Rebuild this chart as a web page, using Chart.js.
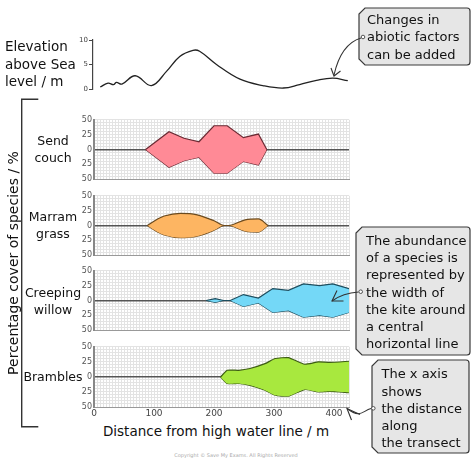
<!DOCTYPE html>
<html><head><meta charset="utf-8">
<script src="https://cdn.jsdelivr.net/npm/chart.js@4/dist/chart.umd.min.js"></script>
<style>
html,body{margin:0;padding:0;background:#fff;}
body{width:474px;height:465px;position:relative;overflow:hidden;font-family:"DejaVu Sans",sans-serif;color:#111;}
canvas{position:absolute;}
.t{position:absolute;font-size:13px;line-height:17.3px;white-space:nowrap;}
.sp{text-align:center;width:80px;left:13px;font-size:12.5px;}
svg{position:absolute;left:0;top:0;}
</style>
</head><body>
<canvas id="elev" width="295" height="70" style="left:60px;top:30px"></canvas>
<canvas id="p0" width="295" height="73" style="left:60px;top:113px"></canvas>
<canvas id="p1" width="295" height="73" style="left:60px;top:189px"></canvas>
<canvas id="p2" width="295" height="73" style="left:60px;top:264px"></canvas>
<canvas id="p3" width="295" height="83" style="left:60px;top:340px"></canvas>

<div class="t" style="left:5px;top:38px;line-height:17.5px;font-size:13.5px">Elevation<br>above Sea<br>level / m</div>
<div class="t sp" style="top:132px">Send<br>couch</div>
<div class="t sp" style="top:208px">Marram<br>grass</div>
<div class="t sp" style="top:284px">Creeping<br>willow</div>
<div class="t sp" style="top:368px">Brambles</div>
<div class="t" style="left:-117px;top:254px;width:260px;text-align:center;font-size:14px;line-height:18px;transform:rotate(-90deg);">Percentage cover of species / %</div>
<div class="t" style="left:70px;top:423px;width:292px;text-align:center;font-size:13.5px">Distance from high water line / m</div>
<div class="t" style="left:136px;top:452px;width:200px;text-align:center;font-size:5px;line-height:6px;color:#aaa;">Copyright © Save My Exams. All Rights Reserved</div>

<svg width="474" height="465" viewBox="0 0 474 465">
  <g fill="none" stroke="#333" stroke-width="1.4">
    <path d="M38.3 99.3 H21.7 V426.7 H38.3"/>
  </g>
  <g fill="#e6e6e6" stroke="#3a3a3a" stroke-width="1.2">
    <path d="M365 8 H467 Q470 8 470 11 V62 Q470 65 467 65 H365 L359 59 V14 Z"/>
    <path d="M362 227 H467 Q470 227 470 230 V352 Q470 355 467 355 H362 L356 349 V233 Z"/>
    <path d="M378 360 H466 Q469 360 469 363 V450 Q469 453 466 453 H378 L372 447 V366 Z"/>
  </g>
  <g fill="none" stroke="#333" stroke-width="1.1">
    <path d="M361 38 Q341 44 334 75"/>
    <path d="M331 68 L334 76 L340.5 71"/>
    <path d="M358.5 292 Q343 293 332 301"/>
    <path d="M337 290.5 L332 301 L343.5 301"/>
    <path d="M371 408.5 C362 411 361 419 347 408.5"/>
    <path d="M351.5 420 L347 408.5 L360 414.5"/>
  </g>
  <g fill="#fff" stroke="#444" stroke-width="0.9">
    <circle cx="363" cy="37" r="1.8"/>
    <circle cx="360.7" cy="291.7" r="1.8"/>
    <circle cx="373.3" cy="408.3" r="1.8"/>
  </g>
</svg>
<div class="t" style="left:367px;top:10.5px;line-height:17.5px">Changes in<br>abiotic factors<br>can be added</div>
<div class="t" style="left:366px;top:232px;line-height:17.2px">The abundance<br>of a species is<br>represented by<br>the width of<br>the kite around<br>a central<br>horizontal line</div>
<div class="t" style="left:381.5px;top:365.4px;line-height:17.2px">The x axis<br>shows<br>the distance<br>along<br>the transect</div>

<script>
// ---- data (distance in m) ----
const xTickLabels = [0, 100, 200, 300, 400];
const yTickLabels = [50, 25, 0, 25, 50];
const elevTickLabels = [0, 5, 10];
const gridStep = 5;

const elevationDistance = [12, 25, 34, 39, 48, 70, 97, 122, 144, 166, 177, 205, 244, 282, 316, 343, 371, 398, 423];
const elevationHeight   = [0.4, 1.2, 0.9, 1.35, 1.0, 2.7, 0.7, 3.6, 6.65, 7.9, 7.7, 5.0, 2.0, 0.7, 0.2, 0.9, 1.75, 2.2, 1.7];

const sendCouchDistance = [86, 125, 150, 175, 200, 222, 249, 274, 288];
const sendCouchCover    = [0, 30, 19, 13, 40, 40, 20, 26, 0];

const marramDistance = [89, 106, 117, 144, 172, 200, 217, 224, 252, 274, 290];
const marramCover    = [0, 11, 16, 20.5, 18, 8, 0, 0, 9.5, 11, 0];

const willowDistance = [187, 202, 216, 227, 249, 274, 298, 324, 349, 376, 398, 425];
const willowCover    = [0, 3, 0, 0, 10, 4, 20, 17, 28, 25, 28, 20];

const bramblesDistance = [211, 222, 241, 260, 285, 302, 324, 351, 374, 393, 425];
const bramblesCover    = [0, 11, 11, 14, 22, 30.5, 32, 21, 25, 24, 26];

const species = [
  {id:'p0', dist:sendCouchDistance, cover:sendCouchCover, fill:'#FF8A96', line:'#6a2a33', tension:0, mono:false},
  {id:'p1', dist:marramDistance, cover:marramCover, fill:'#FDB562', line:'#6b4a1e', tension:0, mono:true},
  {id:'p2', dist:willowDistance, cover:willowCover, fill:'#74D8F7', line:'#1d4d5e', tension:0, mono:false},
  {id:'p3', dist:bramblesDistance, cover:bramblesCover, fill:'#A8E83E', line:'#3d5c14', tension:0.15, mono:false}
];

const X_MIN = 0, X_MAX = 425, Y_MIN = -50, Y_MAX = 50;

function pts(dist, vals, sign){ return dist.map((d,i)=>({x:d, y:sign*vals[i]})); }
function stepTicks(min, max, step){ const t=[]; for(let v=min; v<=max; v+=step) t.push({value:v}); return t; }

// elevation profile
new Chart(document.getElementById('elev'), {
  type:'line',
  data:{datasets:[{data:pts(elevationDistance, elevationHeight, 1), borderColor:'#222', borderWidth:1.3, pointRadius:0, tension:0.4, fill:false}]},
  options:{
    responsive:false, animation:false, events:[],
    layout:{padding:{top:10,bottom:11,left:0,right:6}},
    plugins:{legend:{display:false},tooltip:{enabled:false}},
    scales:{
      x:{type:'linear', min:X_MIN, max:X_MAX, display:false},
      y:{type:'linear', min:0, max:10,
         afterBuildTicks:s=>{s.ticks = elevTickLabels.map(v=>({value:v}));},
         ticks:{font:{size:7,family:'DejaVu Sans'}, color:'#444', padding:1},
         grid:{drawOnChartArea:false, drawTicks:true, tickLength:4, color:'#444', lineWidth:1},
         border:{display:true, color:'#444', width:1.2},
         afterFit:s=>{s.width = 33;}}
    }
  }
});

species.forEach((sp, idx)=>{
  const last = idx === species.length-1;
  const common = {borderColor:sp.line, borderWidth:1.2, pointRadius:0, tension:sp.tension};
  if (sp.mono) common.cubicInterpolationMode = 'monotone';
  new Chart(document.getElementById(sp.id), {
    type:'line',
    data:{datasets:[
      Object.assign({data:pts(sp.dist, sp.cover, 1), backgroundColor:sp.fill, fill:'+1'}, common),
      Object.assign({data:pts(sp.dist, sp.cover, -1), fill:false}, common)
    ]},
    options:{
      responsive:false, animation:false, events:[],
      layout:{padding:{top:6,bottom:last?2:6,left:0,right:6}},
      plugins:{legend:{display:false},tooltip:{enabled:false}},
      scales:{
        x:{type:'linear', min:X_MIN, max:X_MAX,
           afterBuildTicks:s=>{s.ticks = stepTicks(X_MIN, X_MAX, gridStep);},
           ticks:{display:last, autoSkip:false, maxRotation:0,
                  font:{size:9,family:'DejaVu Sans'}, color:'#444', padding:1,
                  callback:v=> xTickLabels.includes(v) ? String(v) : ''},
           grid:{color:'#e3e3e3', lineWidth:1, drawTicks:false},
           border:{display:true, color:'#999', width:1},
           afterFit:s=>{s.height = last ? 14 : 0;}},
        y:{type:'linear', min:Y_MIN, max:Y_MAX,
           afterBuildTicks:s=>{s.ticks = stepTicks(Y_MIN, Y_MAX, gridStep);},
           ticks:{autoSkip:false,
                  font:{size:8,family:'DejaVu Sans'}, color:'#555', padding:2,
                  callback:v=> (v % 25 === 0) ? String(yTickLabels[(v+50)/25]) : ''},
           grid:{drawTicks:false,
                 color:c=> (c.tick && c.tick.value===0) ? '#555' : '#e3e3e3',
                 lineWidth:c=> (c.tick && c.tick.value===0) ? 1.6 : 1},
           border:{display:true, color:'#888', width:2},
           afterFit:s=>{s.width = 34;}}
      }
    }
  });
});
</script>
</body></html>
